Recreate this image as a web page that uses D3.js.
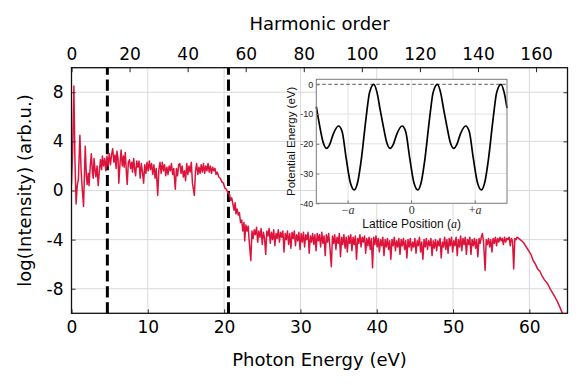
<!DOCTYPE html>
<html>
<head>
<meta charset="utf-8">
<script src="https://cdn.jsdelivr.net/npm/d3@7"></script>
<style>
  html, body { margin: 0; padding: 0; background: #fff; }
  svg { display: block; font-family: 'DejaVu Sans', sans-serif; }
</style>
</head>
<body>
<svg id="chart" width="581" height="385"></svg>
<script>
// DATA

// fundamental photon energy (eV per harmonic order), links top and bottom axes
const fundamental = 0.3805
const energyTicks = [0, 10, 20, 30, 40, 50, 60]
const harmonicTicks = [0, 20, 40, 60, 80, 100, 120, 140, 160]
const intensityTicks = [8, 4, 0, -4, -8]
const markerEnergies = [4.7, 20.57]

// spectrum: [photon energy (eV), log intensity]
const spectrumRise = [
    [0, 0.5], [0.15, 3.2], [0.31, 8.5], [0.45, 2.5], [0.6, -1.1], [0.75, 0.4], [0.9, 0.9], [1.1, 4.5],
    [1.25, 1.8], [1.4, 0.2], [1.58, -1.3], [1.8, 3.6], [1.95, 1.2], [2.05, 0.5], [2.2, 1.4], [2.3, 0.4],
    [2.45, 1.9], [2.6, 3.0], [2.75, 1.4], [2.85, 1.0], [2.95, 2.6], [3.1, 1.6], [3.2, 1.1], [3.35, 2.0],
    [3.5, 0.4], [3.65, 1.6], [3.8, 2.5], [3.95, 1.7], [4.05, 2.8], [4.2, 2.0], [4.35, 2.6], [4.5, 1.6],
    [4.65, 2.8], [4.8, 2.0], [4.95, 3.0]
]
const spectrumPlateau = [
    [5.1, 2.1], [5.25, 2.9], [5.4, 3.4], [5.55, 2.3], [5.7, 2.9], [5.85, 1.8], [5.95, 3.2], [6.1, 2.6],
    [6.2, 0.6], [6.35, 2.1], [6.5, 3.3], [6.65, 2.0], [6.8, 2.8], [6.9, 1.9], [7.05, 3.1], [7.2, 1.4],
    [7.3, 0.5], [7.45, 2.3], [7.6, 2.5], [7.75, 1.8], [7.9, 2.3], [8.0, 1.5], [8.15, 2.6], [8.3, 1.6],
    [8.4, 1.2], [8.55, 2.4], [8.7, 1.9], [8.85, 2.4], [9.0, 1.0], [9.15, 2.2], [9.3, 1.5], [9.45, 0.6],
    [9.6, 2.1], [9.75, 1.4], [9.9, 2.3], [10.05, 1.6], [10.2, 2.4], [10.35, 1.7], [10.5, 2.2], [10.65, 1.3],
    [10.8, 2.1], [10.95, 1.0], [11.1, 1.8], [11.3, -0.4], [11.45, 1.7], [11.6, 2.3], [11.75, 1.4], [11.9, 2.3],
    [12.05, 1.6], [12.2, 2.1], [12.35, 1.2], [12.5, 1.9], [12.65, 1.3], [12.8, 2.0], [12.95, 1.6], [13.1, 2.2],
    [13.25, 1.3], [13.4, 1.8], [13.6, 0.1], [13.75, 1.8], [13.9, 1.2], [14.05, 2.1], [14.2, 2.2], [14.35, 1.4],
    [14.5, 2.0], [14.65, 1.1], [14.8, 1.6], [14.95, 0.8], [15.1, 2.2], [15.25, 1.3], [15.4, 2.0], [15.55, 1.5],
    [15.7, 2.3], [15.85, 0.6], [16.1, -0.4], [16.25, 1.6], [16.4, 2.2], [16.55, 1.3], [16.7, 1.9], [16.85, 1.4],
    [17.0, 2.1], [17.15, 1.5], [17.3, 2.2], [17.45, 1.4], [17.6, 2.0], [17.75, 1.6], [17.9, 2.2], [18.05, 1.5],
    [18.2, 2.0], [18.35, 1.4], [18.5, 1.9], [18.65, 1.6], [18.8, 1.8], [18.95, 1.3], [19.1, 1.5], [19.3, 1.1],
    [19.5, 1.0], [19.7, 0.7], [19.9, 0.6]
]
const spectrumCutoff = [
    [20.1, 0.2], [20.3, 0.1], [20.5, -0.2], [20.7, -0.3], [20.85, -0.8], [21.0, -0.6], [21.15, -1.1], [21.3, -1.6],
    [21.45, -1.0], [21.55, -1.9], [21.7, -1.5], [21.85, -2.0], [22.0, -1.8], [22.15, -2.6], [22.3, -2.4], [22.45, -3.3],
    [22.6, -2.6], [22.7, -4.1], [22.85, -2.8], [23.0, -3.3], [23.15, -2.9], [23.3, -4.2], [23.5, -5.7], [23.65, -3.3],
    [23.8, -3.9], [23.95, -3.2]
]
const spectrumTail = [
    [24.1, -3.6], [24.25, -3.0], [24.4, -4.2], [24.55, -3.3], [24.7, -3.8], [24.85, -3.1], [25.0, -4.4], [25.15, -3.4],
    [25.3, -3.9], [25.45, -5.2], [25.6, -3.3], [25.75, -3.7], [25.9, -3.1], [26.05, -4.3], [26.2, -3.4], [26.35, -4.0],
    [26.5, -3.2], [26.65, -4.5], [26.8, -3.5], [26.95, -3.9], [27.1, -3.2], [27.25, -4.2], [27.4, -3.4], [27.55, -3.8],
    [27.7, -3.3], [27.85, -5.0], [28.0, -3.5], [28.15, -4.0], [28.3, -3.3], [28.45, -4.4], [28.6, -3.5], [28.75, -4.7],
    [28.9, -3.4], [29.05, -3.9], [29.2, -3.3], [29.35, -4.5], [29.5, -3.6], [29.65, -4.1], [29.8, -3.4], [29.95, -4.8],
    [30.1, -3.5], [30.25, -4.2], [30.4, -3.4], [30.55, -4.6], [30.7, -3.6], [30.85, -4.0], [31.0, -3.4], [31.15, -5.1],
    [31.3, -3.7], [31.45, -4.2], [31.6, -3.5], [31.75, -4.4], [31.9, -3.6], [32.05, -4.9], [32.2, -3.5], [32.35, -4.1],
    [32.5, -3.6], [32.65, -4.6], [32.8, -3.4], [32.95, -4.3], [33.1, -3.7], [33.25, -5.3], [33.4, -3.6], [33.55, -4.2],
    [33.7, -3.5], [33.85, -4.5], [34.05, -6.2], [34.2, -3.7], [34.35, -4.3], [34.5, -3.6], [34.65, -4.8], [34.8, -3.8],
    [34.95, -4.3], [35.1, -3.5], [35.25, -5.4], [35.4, -3.8], [35.55, -4.4], [35.7, -3.6], [35.85, -4.7], [36.0, -3.8],
    [36.15, -5.0], [36.3, -3.7], [36.45, -4.3], [36.6, -3.6], [36.75, -4.9], [36.9, -3.8], [37.05, -4.4], [37.2, -3.7],
    [37.35, -5.6], [37.5, -3.9], [37.65, -4.3], [37.8, -3.6], [37.95, -4.6], [38.1, -3.8], [38.25, -4.2], [38.4, -3.7],
    [38.55, -5.1], [38.7, -3.9], [38.85, -4.5], [39.0, -3.8], [39.15, -4.8], [39.3, -3.9], [39.45, -6.3], [39.6, -3.8],
    [39.75, -4.4], [39.9, -3.7], [40.05, -4.6], [40.2, -3.9], [40.35, -5.0], [40.5, -4.0], [40.65, -4.5], [40.8, -3.8],
    [40.95, -5.3], [41.1, -4.0], [41.25, -4.6], [41.4, -3.9], [41.55, -4.8], [41.7, -4.1], [41.85, -5.6], [42.0, -4.0],
    [42.15, -4.5], [42.3, -3.8], [42.45, -4.9], [42.6, -4.1], [42.75, -4.6], [42.9, -3.9], [43.05, -5.2], [43.2, -4.0],
    [43.35, -4.5], [43.5, -3.9], [43.65, -4.8], [43.8, -4.1], [43.95, -5.5], [44.1, -4.0], [44.25, -4.6], [44.4, -3.9],
    [44.55, -4.9], [44.7, -4.2], [44.85, -4.6], [45.0, -3.9], [45.15, -5.1], [45.3, -4.1], [45.45, -4.5], [45.6, -3.8],
    [45.75, -5.0], [45.9, -4.2], [46.05, -5.6], [46.2, -4.0], [46.35, -4.6], [46.5, -3.9], [46.65, -4.8], [46.8, -4.1],
    [46.95, -4.5], [47.1, -3.9], [47.25, -5.3], [47.4, -4.1], [47.55, -4.7], [47.7, -4.0], [47.85, -4.9], [48.0, -4.1],
    [48.15, -4.5], [48.3, -3.9], [48.45, -5.5], [48.6, -4.2], [48.75, -4.6], [48.9, -3.8], [49.05, -4.8], [49.2, -4.0],
    [49.35, -5.1], [49.5, -3.9], [49.65, -4.5], [49.8, -3.8], [49.95, -5.0], [50.1, -4.1], [50.25, -4.5], [50.4, -3.8],
    [50.55, -5.3], [50.7, -4.0], [50.85, -4.6], [51.0, -3.7], [51.15, -4.9], [51.3, -3.9], [51.45, -4.4], [51.6, -3.8],
    [51.75, -5.2], [51.9, -4.0], [52.05, -4.4], [52.2, -3.8], [52.35, -5.2], [52.5, -4.0], [52.65, -4.5], [52.8, -3.9],
    [52.95, -4.7], [53.1, -4.0], [53.25, -5.4], [53.4, -3.9], [53.55, -4.3], [53.7, -3.8], [53.85, -3.5], [54.0, -4.2],
    [54.2, -6.5], [54.35, -4.0], [54.5, -4.4], [54.65, -3.9], [54.8, -4.6], [54.95, -4.0], [55.1, -5.0], [55.25, -3.9],
    [55.4, -4.3], [55.55, -3.8], [55.7, -4.5], [55.85, -3.9], [56.0, -4.2], [56.15, -3.8], [56.3, -4.1], [56.45, -3.9],
    [56.6, -4.4], [56.75, -3.8], [56.9, -4.2], [57.05, -3.9], [57.2, -4.0], [57.35, -3.8], [57.5, -4.5], [57.65, -3.9],
    [57.8, -4.1], [57.95, -6.4], [58.1, -3.9], [58.25, -4.0], [58.4, -3.8], [58.6, -3.9], [58.8, -4.0]
]
const spectrumDrop = [
    [59.0, -4.1], [59.3, -4.3], [59.6, -4.6], [59.9, -4.9], [60.2, -5.2], [60.5, -5.7], [60.8, -6.0], [61.1, -6.4],
    [61.4, -6.6], [61.7, -7.0], [62.0, -7.3], [62.4, -7.6], [62.8, -8.1], [63.2, -8.5], [63.6, -8.95], [64.0, -9.5],
    [64.4, -10.1], [64.6, -10.4]
]
const spectrum = [...spectrumRise, ...spectrumPlateau, ...spectrumCutoff, ...spectrumTail, ...spectrumDrop]

// inset: lattice potential, [position (a), energy (eV)]
const potential = [
    [-1.5, -7.5], [-1.445, -14.2], [-1.395, -19.3], [-1.34, -21.5], [-1.285, -20.0], [-1.235, -16.8], [-1.15, -14.0],
    [-1.095, -15.8], [-1.029, -25], [-0.965, -33], [-0.903, -35.5], [-0.845, -32.5], [-0.793, -25.4], [-0.715, -10.9],
    [-0.662, -2.7], [-0.595, 0], [-0.545, -2.7], [-0.495, -8.6], [-0.445, -14.2], [-0.395, -19.3], [-0.34, -21.5],
    [-0.285, -20.0], [-0.235, -16.8], [-0.15, -14.0], [-0.095, -15.8], [-0.029, -25], [0.035, -33], [0.097, -35.5],
    [0.155, -32.5], [0.207, -25.4], [0.285, -10.9], [0.338, -2.7], [0.405, 0], [0.455, -2.7], [0.505, -8.6],
    [0.555, -14.2], [0.605, -19.3], [0.66, -21.5], [0.715, -20.0], [0.765, -16.8], [0.85, -14.0], [0.905, -15.8],
    [0.971, -25], [1.035, -33], [1.097, -35.5], [1.155, -32.5], [1.207, -25.4], [1.285, -10.9], [1.338, -2.7],
    [1.405, 0], [1.455, -2.7], [1.5, -8.0]
]
const potentialTicks = [0, -10, -20, -30, -40]
const latticeTicks = [-1, 0, 1]
const latticeSigns = ['\u2212', '', '+']


// SVG, SCALES

const svg = d3.select('#chart')
const plot = { left: 71.5, right: 567.5, top: 67.7, bottom: 313.3 }

const x = d3.scaleLinear().domain([0, 65]).range([plot.left, plot.right])
const xTop = d3.scaleLinear().domain([0, 65 / fundamental]).range([plot.left, plot.right])
const y = d3.scaleLinear().domain([-10, 10]).range([plot.bottom, plot.top])

svg.append('rect').attr('width', 581).attr('height', 385).attr('fill', '#fff')

svg.append('defs').append('clipPath')
    .attr('id', 'plot-clip')
    .append('rect')
    .attr('x', plot.left)
    .attr('y', plot.top)
    .attr('width', plot.right - plot.left)
    .attr('height', plot.bottom - plot.top)

// grid
const grid = svg.append('g').attr('stroke', '#dadada').attr('stroke-width', 1)
grid.selectAll('.vgrid')
    .data(energyTicks.filter(d => d > 0))
    .join('line')
    .attr('x1', d => x(d)).attr('x2', d => x(d))
    .attr('y1', plot.top).attr('y2', plot.bottom)
grid.selectAll('.hgrid')
    .data(intensityTicks)
    .join('line')
    .attr('x1', plot.left).attr('x2', plot.right)
    .attr('y1', d => y(d)).attr('y2', d => y(d))

// dashed markers (drawn bottom -> top so the dash pattern starts at the axis)
svg.append('g').selectAll('line')
    .data(markerEnergies)
    .join('line')
    .attr('x1', d => x(d)).attr('x2', d => x(d))
    .attr('y1', plot.bottom).attr('y2', plot.top)
    .attr('stroke', '#000')
    .attr('stroke-width', 3)
    .attr('stroke-dasharray', '11.1,4.8')

// spectrum
const line = d3.line().x(d => x(d[0])).y(d => y(d[1]))
svg.append('path')
    .datum(spectrum)
    .attr('clip-path', 'url(#plot-clip)')
    .attr('d', line)
    .attr('fill', 'none')
    .attr('stroke', '#dc143c')
    .attr('stroke-width', 1.5)
    .attr('stroke-linejoin', 'round')


// AXES

const tickFont = g => g.selectAll('text')
    .attr('font-size', 17)
    .attr('fill', '#000')
    .attr('font-family', 'DejaVu Sans, sans-serif')

svg.append('g')
    .attr('transform', `translate(0,${plot.bottom})`)
    .call(d3.axisBottom(x).tickValues(energyTicks).tickFormat(d => String(d)).tickSizeInner(-4).tickSizeOuter(0).tickPadding(7.6))
    .call(g => g.select('.domain').remove())
    .call(g => g.selectAll('line').attr('stroke', '#333'))
    .call(tickFont)

svg.append('g')
    .attr('transform', `translate(0,${plot.top})`)
    .call(d3.axisTop(xTop).tickValues(harmonicTicks).tickFormat(d => String(d)).tickSizeInner(-4.5).tickSizeOuter(0).tickPadding(7.7))
    .call(g => g.select('.domain').remove())
    .call(g => g.selectAll('line').attr('stroke', '#222'))
    .call(tickFont)

svg.append('g')
    .attr('transform', `translate(${plot.left},0)`)
    .call(d3.axisLeft(y).tickValues(intensityTicks).tickFormat(d => String(d)).tickSizeInner(-4).tickSizeOuter(0).tickPadding(8))
    .call(g => g.select('.domain').remove())
    .call(g => g.selectAll('line').attr('stroke', '#333'))
    .call(tickFont)

svg.append('g')
    .attr('transform', `translate(${plot.right},0)`)
    .call(d3.axisRight(y).tickValues(intensityTicks).tickFormat('').tickSizeInner(-4).tickSizeOuter(0))
    .call(g => g.select('.domain').remove())
    .call(g => g.selectAll('line').attr('stroke', '#333'))

// frame
svg.append('rect')
    .attr('x', plot.left).attr('y', plot.top)
    .attr('width', plot.right - plot.left)
    .attr('height', plot.bottom - plot.top)
    .attr('fill', 'none')
    .attr('stroke', '#111')
    .attr('stroke-width', 1.3)

// axis titles
svg.append('text')
    .attr('x', (plot.left + plot.right) / 2).attr('y', 29.5)
    .attr('text-anchor', 'middle').attr('font-size', 18)
    .text('Harmonic order')

svg.append('text')
    .attr('x', (plot.left + plot.right) / 2).attr('y', 366)
    .attr('text-anchor', 'middle').attr('font-size', 18)
    .text('Photon Energy (eV)')

svg.append('text')
    .attr('transform', `translate(30.5,${(plot.top + plot.bottom) / 2}) rotate(-90)`)
    .attr('text-anchor', 'middle').attr('font-size', 18)
    .text('log(Intensity) (arb.u.)')


// INSET

const inset = { left: 316.3, right: 507, top: 79.3, bottom: 203.3 }
const ix = d3.scaleLinear().domain([-1.5, 1.5]).range([inset.left, inset.right])
const iy = d3.scaleLinear().domain([-40, 1.7]).range([inset.bottom, inset.top])

const ins = svg.append('g').attr('font-family', 'Liberation Sans, Arial, sans-serif')

ins.append('rect')
    .attr('x', inset.left).attr('y', inset.top)
    .attr('width', inset.right - inset.left)
    .attr('height', inset.bottom - inset.top)
    .attr('fill', '#fff')

ins.append('g').attr('stroke', '#e2e2e2').attr('stroke-width', 1)
    .call(g => g.selectAll('.v').data(latticeTicks).join('line')
        .attr('x1', d => ix(d)).attr('x2', d => ix(d))
        .attr('y1', inset.top).attr('y2', inset.bottom))
    .call(g => g.selectAll('.h').data(potentialTicks.filter(d => d > -40 && d < 0)).join('line')
        .attr('x1', inset.left).attr('x2', inset.right)
        .attr('y1', d => iy(d)).attr('y2', d => iy(d)))

// zero-energy reference
ins.append('line')
    .attr('x1', inset.left).attr('x2', inset.right)
    .attr('y1', iy(0)).attr('y2', iy(0))
    .attr('stroke', '#777')
    .attr('stroke-width', 1.3)
    .attr('stroke-dasharray', '3.5,2.5')

ins.append('path')
    .datum(potential)
    .attr('d', d3.line().x(d => ix(d[0])).y(d => iy(d[1])).curve(d3.curveMonotoneX))
    .attr('fill', 'none')
    .attr('stroke', '#000')
    .attr('stroke-width', 1.7)

ins.append('rect')
    .attr('x', inset.left).attr('y', inset.top)
    .attr('width', inset.right - inset.left)
    .attr('height', inset.bottom - inset.top)
    .attr('fill', 'none')
    .attr('stroke', '#7a7a7a')
    .attr('stroke-width', 1)

// inset ticks
ins.append('g')
    .attr('transform', `translate(${inset.left},0)`)
    .call(d3.axisLeft(iy).tickValues(potentialTicks).tickFormat(d => String(d)).tickSizeInner(-3).tickSizeOuter(0).tickPadding(3))
    .call(g => g.select('.domain').remove())
    .call(g => g.selectAll('line').attr('stroke', '#7a7a7a'))
    .call(g => g.selectAll('text').attr('font-size', 9).attr('fill', '#222').attr('font-family', 'Liberation Sans, Arial, sans-serif'))

const xLabels = ins.append('g').attr('font-family', 'Liberation Serif, serif').attr('font-size', 12).attr('fill', '#333')
xLabels.selectAll('line')
    .data(latticeTicks)
    .join('line')
    .attr('x1', d => ix(d)).attr('x2', d => ix(d))
    .attr('y1', inset.bottom).attr('y2', inset.bottom - 3)
    .attr('stroke', '#7a7a7a')
xLabels.selectAll('text')
    .data(latticeTicks)
    .join('text')
    .attr('x', d => ix(d)).attr('y', 214)
    .attr('text-anchor', 'middle')
    .each(function (d, i) {
        const t = d3.select(this)
        if (d === 0) { t.text('0'); return }
        t.append('tspan').text(latticeSigns[i])
        t.append('tspan').attr('font-style', 'italic').text('a')
    })

const xTitle = ins.append('text')
    .attr('x', (inset.left + inset.right) / 2).attr('y', 228)
    .attr('text-anchor', 'middle').attr('font-size', 12).attr('fill', '#111')
xTitle.append('tspan').text('Lattice Position (')
xTitle.append('tspan').attr('font-family', 'Liberation Serif, serif').attr('font-style', 'italic').text('a')
xTitle.append('tspan').text(')')

ins.append('text')
    .attr('transform', `translate(295,${(inset.top + inset.bottom) / 2}) rotate(-90)`)
    .attr('text-anchor', 'middle').attr('font-size', 11.5).attr('fill', '#111')
    .text('Potential Energy (eV)')
</script>
</body>
</html>
